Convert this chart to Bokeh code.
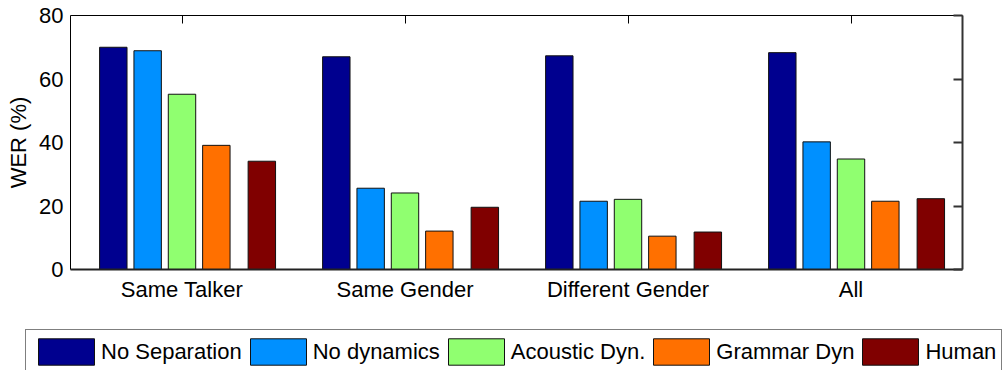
from bokeh.plotting import figure
from bokeh.models import ColumnDataSource, Range1d, FixedTicker, LinearAxis, Legend, LegendItem
from bokeh.transform import dodge
from bokeh.embed import file_html
from bokeh.resources import INLINE

# ---------------- data ----------------
categories = ["Same Talker", "Same Gender", "Different Gender", "All"]
series_names = ["No Separation", "No dynamics", "Acoustic Dyn.", "Grammar Dyn", "Human"]
no_separation = [70.0, 67.0, 67.3, 68.3]
no_dynamics = [68.9, 25.6, 21.5, 40.2]
acoustic_dyn = [55.2, 24.1, 22.1, 34.8]
grammar_dyn = [39.1, 12.1, 10.5, 21.5]
human = [34.1, 19.6, 11.8, 22.3]
y_ticks = [0, 20, 40, 60, 80]

# ---------------- style ----------------
colors = ["#00008F", "#0090FF", "#90FF70", "#FF7000", "#800000"]
offsets = [-0.308, -0.154, 0.0, 0.154, 0.358]
BAR_W = 0.123
FONT = "Liberation Sans"
FS = "22px"
EDGE = "#111111"

xi = list(range(1, len(categories) + 1))
cols = ["s0", "s1", "s2", "s3", "s4"]
series = [no_separation, no_dynamics, acoustic_dyn, grammar_dyn, human]
src = ColumnDataSource(dict(xi=xi, **{c: v for c, v in zip(cols, series)}))

p = figure(width=1004, height=304, x_range=Range1d(0.5, 4.5), y_range=Range1d(0, 80),
           output_backend="svg", toolbar_location=None,
           min_border_left=70, min_border_right=42, min_border_top=15, min_border_bottom=34)
p.outline_line_color = None
p.xgrid.visible = False
p.ygrid.visible = False

for c, col, off in zip(cols, colors, offsets):
    p.vbar(x=dodge("xi", off), top=c, width=BAR_W, bottom=0, source=src,
           fill_color=col, line_color=EDGE, line_width=1)

# bottom axis
xa = p.xaxis[0]
xa.ticker = FixedTicker(ticks=xi)
xa.major_label_overrides = {i: name for i, name in zip(xi, categories)}
xa.major_label_text_font = FONT
xa.major_label_text_font_size = FS
xa.major_label_text_color = "black"
xa.major_tick_in = 0
xa.major_tick_out = 0
xa.minor_tick_line_color = None
xa.major_label_standoff = 7
xa.axis_line_width = 2
xa.axis_line_color = "#222222"

# left axis
ya = p.yaxis[0]
ya.ticker = FixedTicker(ticks=y_ticks)
ya.axis_label = "WER (%)"
ya.axis_label_text_font = FONT
ya.axis_label_text_font_size = FS
ya.axis_label_text_font_style = "normal"
ya.axis_label_text_color = "black"
ya.axis_label_standoff = 5
ya.major_label_text_font = FONT
ya.major_label_text_font_size = FS
ya.major_label_text_color = "black"
ya.major_tick_in = 0
ya.major_tick_out = 0
ya.minor_tick_line_color = None
ya.major_label_standoff = 7
ya.axis_line_color = "black"

# top axis (ticks only)
top = LinearAxis(ticker=FixedTicker(ticks=xi), major_label_text_font_size="0px",
                 major_label_standoff=0, major_tick_in=8, major_tick_out=0,
                 minor_tick_line_color=None, axis_line_color="black")
top.major_label_overrides = {i: "" for i in xi}
p.add_layout(top, "above")

# right axis (ticks only)
right = LinearAxis(ticker=FixedTicker(ticks=y_ticks), major_label_text_font_size="0px",
                   major_label_standoff=0, major_tick_in=9, major_tick_out=0,
                   minor_tick_line_color=None, axis_line_color="#333333", axis_line_width=2,
                   major_tick_line_color="#333333", major_tick_line_width=2)
right.major_label_overrides = {t: "" for t in y_ticks}
p.add_layout(right, "right")

# ---------------- legend strip (separate root, frame = whole strip) ----------------
lg = figure(width=1004, height=66, x_range=Range1d(0, 1), y_range=Range1d(0, 1),
            output_backend="svg", toolbar_location=None, min_border=0)
lg.outline_line_color = None
lg.axis.visible = False
lg.xgrid.visible = False
lg.ygrid.visible = False
lg_renderers = []
for col in colors:
    # proxy glyphs outside the visible range; only their legend swatches are seen
    r = lg.vbar(x=[5], top=[1], width=BAR_W, bottom=0, fill_color=col,
                line_color=EDGE, line_width=1)
    lg_renderers.append(r)

items = [LegendItem(label=n, renderers=[r]) for n, r in zip(series_names, lg_renderers)]
legend = Legend(items=items, orientation="horizontal", location="top_left",
                glyph_width=70, glyph_height=33, label_standoff=0, spacing=1,
                padding=5, margin=25, label_text_font=FONT, label_text_font_size=FS,
                label_text_color="black", border_line_color="black", border_line_width=1,
                background_fill_color="white", background_fill_alpha=1)
lg.add_layout(legend)

open("out.html", "w").write(file_html([p, lg], INLINE))
